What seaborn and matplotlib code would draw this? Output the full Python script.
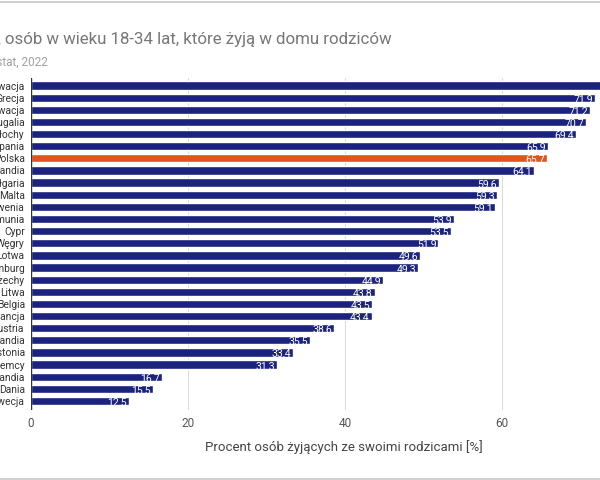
import matplotlib
matplotlib.use("Agg")
import matplotlib.pyplot as plt
import seaborn as sns
import pandas as pd

countries = ["Chorwacja", "Grecja", "Słowacja", "Portugalia", "Włochy", "Hiszpania",
             "Polska", "Irlandia", "Bułgaria", "Malta", "Słowenia", "Rumunia", "Cypr",
             "Węgry", "Łotwa", "Luksemburg", "Czechy", "Litwa", "Belgia", "Francja",
             "Austria", "Holandia", "Estonia", "Niemcy", "Finlandia", "Dania", "Szwecja"]
values = [76.5, 71.9, 71.2, 70.7, 69.4, 65.9, 65.7, 64.1, 59.6, 59.3, 59.1, 53.9, 53.5,
          51.9, 49.6, 49.3, 44.9, 43.8, 43.5, 43.4, 38.6, 35.5, 33.4, 31.3, 16.7, 15.5, 12.5]
highlight = "Polska"
xticks = [0, 20, 40, 60, 80]

title = "Odsetek osób w wieku 18-34 lat, które żyją w domu rodziców"
source = "Źródło: Eurostat, 2022"
xlabel = "Procent osób żyjących ze swoimi rodzicami [%]"

NAVY = "#1b237f"
ORANGE = "#e4531f"

sns.set_theme(style="white")
plt.rcParams["font.family"] = ["Roboto", "DejaVu Sans"]

df = pd.DataFrame({"kraj": countries, "wartosc": values})
palette = {c: (ORANGE if c == highlight else NAVY) for c in countries}

W, H = 600, 480
fig = plt.figure(figsize=(6, 4.8), dpi=100)
left_px, top_px, bottom_px = 31, 78, 410
px_per_unit = 7.85
xmax = 80
ax = fig.add_axes([left_px / W, 1 - bottom_px / H,
                   xmax * px_per_unit / W, (bottom_px - top_px) / H])

sns.barplot(data=df, x="wartosc", y="kraj", hue="kraj", palette=palette,
            legend=False, width=0.68, saturation=1, ax=ax, zorder=3)

ax.set_xlim(0, xmax)
ax.set_ylim(26.74, -0.62)
ax.set_xticks(xticks)
ax.set_xticklabels([str(t) for t in xticks], fontsize=8.5, color="#555555")
ax.tick_params(axis="x", length=0, pad=5)
ax.tick_params(axis="y", length=0, pad=4.5)
ax.set_yticks(range(len(countries)))
ax.set_yticklabels(countries, fontsize=7.4, color="#333333")
ax.set_ylabel("")
ax.set_xlabel(xlabel, fontsize=9.5, color="#444444", labelpad=10)
ax.xaxis.set_label_coords((344 - left_px) / (xmax * px_per_unit), -0.09)

for t in xticks[1:]:
    ax.axvline(t, color="#dcdcdc", lw=0.8, zorder=1)
ax.axvline(0, color="#333333", lw=1.0, zorder=4)
for s in ax.spines.values():
    s.set_visible(False)

for i, (c, v) in enumerate(zip(countries, values)):
    lab = f"{v:.1f}".replace(".", ",")
    ax.text(v - 0.25, i + 0.1, lab, ha="right", va="center", color="white",
            fontsize=7.6, zorder=5)

fig.text(392 / W, 1 - 44 / H, title, ha="right", va="baseline",
         fontsize=12.2, color="#777777")
fig.text(48 / W, 1 - 66 / H, source, ha="right", va="baseline",
         fontsize=8.5, color="#a0a0a0")

fig.add_artist(plt.Line2D([0, 1], [1 - 1.5 / H] * 2, color="#c8c8c8", lw=1.2,
                          transform=fig.transFigure))
fig.add_artist(plt.Line2D([0, 1], [1.5 / H] * 2, color="#c8c8c8", lw=1.2,
                          transform=fig.transFigure))

fig.savefig("out.png", dpi=100)
